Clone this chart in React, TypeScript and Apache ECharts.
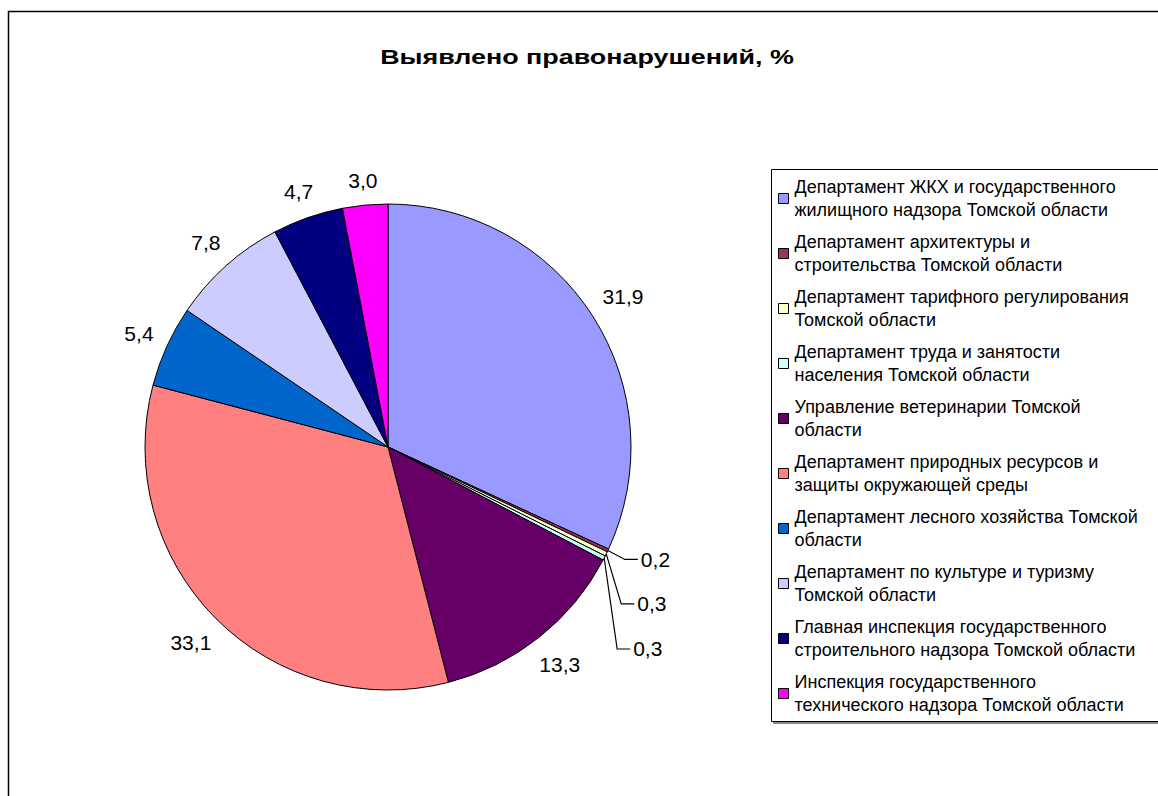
import React, { useEffect, useRef } from "react";
import * as echarts from "echarts";

const TITLE = "Выявлено правонарушений, %";

const categories = [
  "Департамент ЖКХ и государственного\nжилищного надзора Томской области",
  "Департамент архитектуры и\nстроительства Томской области",
  "Департамент тарифного регулирования\nТомской области",
  "Департамент труда и занятости\nнаселения Томской области",
  "Управление ветеринарии Томской\nобласти",
  "Департамент природных ресурсов и\nзащиты окружающей среды",
  "Департамент лесного хозяйства Томской\nобласти",
  "Департамент по культуре и туризму\nТомской области",
  "Главная инспекция государственного\nстроительного надзора Томской области",
  "Инспекция государственного\nтехнического надзора Томской области",
];

const values = [31.9, 0.2, 0.3, 0.3, 13.3, 33.1, 5.4, 7.8, 4.7, 3.0];

const colors = [
  "#9999FF",
  "#993366",
  "#FFFFCC",
  "#CCFFFF",
  "#660066",
  "#FF8080",
  "#0066CC",
  "#CCCCFF",
  "#000080",
  "#FF00FF",
];

const CX = 388;
const CY = 447;
const R = 243;
const SMALL = 1;

export default function App() {
  const ref = useRef<HTMLDivElement>(null);
  useEffect(() => {
    if (!ref.current) return;
    const chart = echarts.init(ref.current, undefined, { renderer: "svg" });
    const total = values.reduce((a, b) => a + b, 0);
    const mids: number[] = [];
    let acc = 0;
    values.forEach((v) => {
      mids.push(((acc + v / 2) / total) * Math.PI * 2);
      acc += v;
    });
    const smallOrder: Record<number, number> = {};
    let k = 0;
    values.forEach((v, i) => {
      if (v < SMALL) smallOrder[i] = k++;
    });
    const fmt = (v: number) => v.toFixed(1).replace(".", ",");

    chart.setOption({
      animation: false,
      backgroundColor: "#ffffff",
      graphic: [
        {
          type: "rect",
          silent: true,
          shape: { x: 8.5, y: 11.5, width: 1200, height: 900 },
          style: { fill: "none", stroke: "#000", lineWidth: 1.5 },
          z: -10,
        },
        {
          type: "rect",
          silent: true,
          shape: { x: 773, y: 171, width: 500, height: 553 },
          style: { fill: "#888", stroke: "none" },
          z: -5,
        },
        {
          type: "rect",
          silent: true,
          shape: { x: 771.5, y: 169.5, width: 500, height: 552 },
          style: { fill: "#fff", stroke: "#000", lineWidth: 1 },
          z: -4,
        },
        {
          type: "text",
          silent: true,
          x: 587,
          y: 57,
          scaleX: 1.28,
          style: {
            text: TITLE,
            x: 0,
            y: 0,
            textAlign: "center",
            textVerticalAlign: "middle",
            font: "bold 21px Arial, 'Liberation Sans', sans-serif",
            fill: "#000",
          },
        },
      ],
      legend: {
        orient: "vertical",
        left: 773,
        top: 159,
        itemWidth: 10,
        itemHeight: 10,
        itemGap: -14,
        icon: "rect",
        data: categories,
        itemStyle: { borderColor: "#000", borderWidth: 1 },
        textStyle: {
          fontFamily: "Arial, 'Liberation Sans', sans-serif",
          fontSize: 18,
          color: "#000",
          lineHeight: 23,
          padding: [23, 0, 0, 1],
        },
      },
      series: [
        {
          type: "pie",
          center: [CX, CY],
          radius: R,
          startAngle: 90,
          clockwise: true,
          avoidLabelOverlap: false,
          itemStyle: { borderColor: "#000", borderWidth: 1 },
          emphasis: { disabled: true },
          label: {
            show: true,
            position: "outside",
            fontFamily: "Arial, 'Liberation Sans', sans-serif",
            fontSize: 21,
            color: "#000",
            formatter: (p: any) => fmt(p.value),
          },
          labelLine: { show: true, lineStyle: { color: "#000", width: 1.2 } },
          labelLayout: (p: any) => {
            const i = p.dataIndex;
            const sx = Math.sin(mids[i]);
            const sy = -Math.cos(mids[i]);
            if (values[i] >= SMALL) {
              const w = p.labelRect.width;
              const h = p.labelRect.height;
              const rr = R + 13 + (w / 2) * Math.abs(sx) + (h / 2) * Math.abs(sy);
              return {
                x: CX + rr * sx,
                y: CY + rr * sy,
                align: "center",
                verticalAlign: "middle",
              };
            }
            const j = smallOrder[i];
            const ex = CX + R * sx;
            const ey = CY + R * sy;
            const ly = ey + 9 + j * 41;
            const bx = ex + 17 - j * 2;
            return {
              x: bx + 16,
              y: ly,
              align: "left",
              verticalAlign: "middle",
              labelLinePoints: [
                [ex, ey],
                [bx, ly],
                [bx + 13, ly],
              ],
            };
          },
          data: categories.map((name, i) => ({
            name,
            value: values[i],
            itemStyle: { color: colors[i] },
            labelLine: { show: values[i] < SMALL },
          })),
        },
      ],
    });
    return () => chart.dispose();
  }, []);
  return (
    <div
      ref={ref}
      style={{ position: "fixed", left: 0, top: 0, width: 1158, height: 796 }}
    />
  );
}
